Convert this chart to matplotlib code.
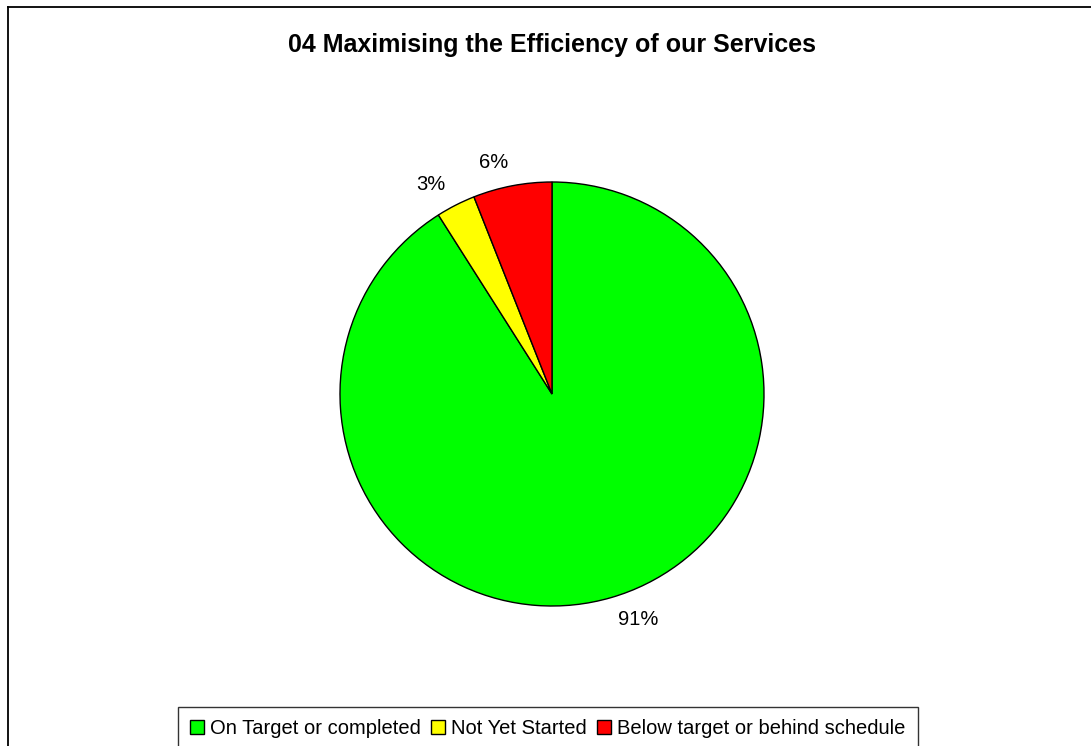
import matplotlib
matplotlib.use('Agg')
import matplotlib.pyplot as plt
from matplotlib.lines import Line2D

plt.rcParams['font.family'] = ['Liberation Sans', 'DejaVu Sans']

title = '04 Maximising the Efficiency of our Services'
categories = ['On Target or completed', 'Not Yet Started', 'Below target or behind schedule']
shares = [91, 3, 6]
labels = ['91%', '3%', '6%']
colors = ['#00FF00', '#FFFF00', '#FF0000']

W, H = 1091, 746
fig = plt.figure(figsize=(W / 100, H / 100), dpi=100)

# pie centre (552, 394) px, radius 212 px
cx, cy, r = 552, 394, 212
ax = fig.add_axes([(cx - r) / W, (H - cy - r) / H, 2 * r / W, 2 * r / H])
wedges, texts = ax.pie(shares, labels=labels, colors=colors, startangle=90,
                       counterclock=False, labeldistance=1.11,
                       wedgeprops=dict(edgecolor='black', linewidth=1.0),
                       textprops=dict(fontsize=14.5, color='black'))
ax.set_xlim(-1, 1)
ax.set_ylim(-1, 1)
ax.set_aspect('equal')

fig.text(552.5 / W, 1 - 45 / H, title, ha='center', va='center',
         fontsize=18, fontweight='bold')

# legend box runs off the bottom edge, as in the cropped original
leg = fig.legend(wedges, categories, loc='upper center', ncol=3,
                 bbox_to_anchor=(548 / W, 1 - 707 / H), frameon=True,
                 fancybox=False, edgecolor='black', fontsize=14.5,
                 handlelength=0.7, handleheight=0.7, handletextpad=0.3,
                 columnspacing=0.5, borderpad=0.6, borderaxespad=0)
leg.get_frame().set_linewidth(1.0)

# outer chart border (cropped at right and bottom)
fig.add_artist(Line2D([8 / W, 1], [1 - 7 / H, 1 - 7 / H], color='black', lw=1.3))
fig.add_artist(Line2D([8 / W, 8 / W], [0, 1 - 7 / H], color='black', lw=1.3))

fig.savefig('out.png', dpi=100)
